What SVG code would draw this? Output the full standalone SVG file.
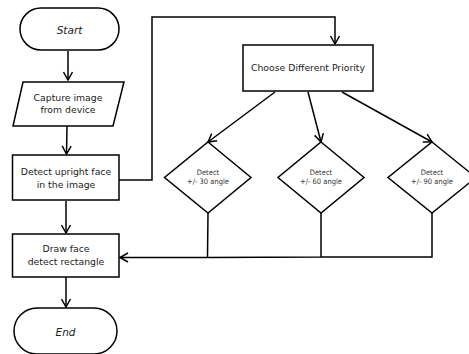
<svg xmlns="http://www.w3.org/2000/svg" width="469" height="354" viewBox="0 0 469 354">
<style>
.s{fill:#fff;stroke:#000;stroke-width:1.5}
.c{fill:none;stroke:#000;stroke-width:1.5}
.t{font-family:"DejaVu Sans",sans-serif;font-size:9.3px;fill:#222;text-anchor:middle}
.i{font-style:italic;font-size:10.5px}
.d{font-family:"DejaVu Sans Condensed","Liberation Sans Narrow",sans-serif;font-size:7.5px;fill:#333;text-anchor:middle}
</style>
<defs>
<marker id="a" markerWidth="12" markerHeight="12" refX="10" refY="6" orient="auto" markerUnits="userSpaceOnUse">
<path d="M2,1.5 L10,6 L2,10.5" fill="none" stroke="#000" stroke-width="1.5"/>
</marker>
</defs>
<rect width="469" height="354" fill="#fff"/>
<g id="connectors">
<path class="c" d="M68,51 V80" marker-end="url(#a)"/>
<path class="c" d="M67,126 L66.5,154" marker-end="url(#a)"/>
<path class="c" d="M119,180 H152 V17 H335 V44" marker-end="url(#a)"/>
<path class="c" d="M66,201 V233" marker-end="url(#a)"/>
<path class="c" d="M66,277 V307" marker-end="url(#a)"/>
<path class="c" d="M275,92 L208,142" marker-end="url(#a)"/>
<path class="c" d="M308,92 L321,142" marker-end="url(#a)"/>
<path class="c" d="M342,92 L432,142" marker-end="url(#a)"/>
<path class="c" d="M208,213 L207.5,257 M321,213 V257 M432,213 V257 H321 L208,257.5 H120" marker-end="url(#a)"/>
</g>
<g id="start">
<rect class="s" x="20" y="8" width="99" height="42" rx="21"/>
<text class="t i" x="69.5" y="33.5">Start</text>
</g>
<g id="capture">
<polygon class="s" points="23,82 124,82 113,126 13,126"/>
<text class="t" x="68" y="101">Capture image</text>
<text class="t" x="68" y="113">from device</text>
</g>
<g id="detect">
<rect class="s" x="12.5" y="155" width="106.5" height="45"/>
<text class="t" x="66" y="175">Detect upright face</text>
<text class="t" x="66" y="188">in the image</text>
</g>
<g id="draw">
<rect class="s" x="12.5" y="234" width="106.5" height="43"/>
<text class="t" x="66" y="252">Draw face</text>
<text class="t" x="66" y="265">detect rectangle</text>
</g>
<g id="end">
<rect class="s" x="14" y="308" width="103" height="46" rx="23"/>
<text class="t i" x="65.5" y="336">End</text>
</g>
<g id="priority">
<rect class="s" x="243" y="45" width="130" height="46"/>
<text class="t" x="308" y="71">Choose Different Priority</text>
</g>
<g id="d30">
<polygon class="s" points="208,142 251,177.5 208,213 164.5,177.5"/>
<text class="d" x="208" y="175">Detect</text>
<text class="d" x="208" y="184">+/- 30 angle</text>
</g>
<g id="d60">
<polygon class="s" points="321,142 364,177.5 321,213 278,177.5"/>
<text class="d" x="321" y="175">Detect</text>
<text class="d" x="321" y="184">+/- 60 angle</text>
</g>
<g id="d90">
<polygon class="s" points="432,142 476,177.5 432,213 388,177.5"/>
<text class="d" x="432" y="175">Detect</text>
<text class="d" x="432" y="184">+/- 90 angle</text>
</g>
</svg>
